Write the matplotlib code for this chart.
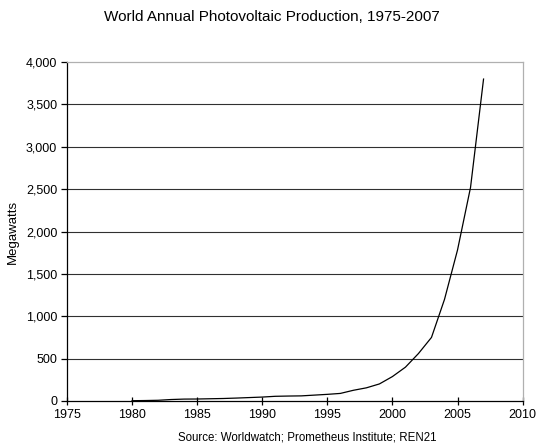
import matplotlib.pyplot as plt
from matplotlib.ticker import FuncFormatter

plt.rcParams['font.family'] = ['Liberation Sans', 'DejaVu Sans']

# world PV production, megawatts
years = [1980, 1981, 1982, 1983, 1984, 1985, 1986, 1987, 1988, 1989,
         1990, 1991, 1992, 1993, 1994, 1995, 1996, 1997, 1998, 1999,
         2000, 2001, 2002, 2003, 2004, 2005, 2006, 2007]
megawatts = [3, 5, 8, 17, 22, 23, 26, 29, 34, 40,
             46, 55, 58, 60, 69, 78, 89, 126, 155, 201,
             288, 399, 560, 750, 1199, 1782, 2521, 3800]

x_ticks = [1975, 1980, 1985, 1990, 1995, 2000, 2005, 2010]
y_ticks = [0, 500, 1000, 1500, 2000, 2500, 3000, 3500, 4000]

fig = plt.figure(figsize=(5.36, 4.47), dpi=100)
ax = fig.add_axes([0.125, 0.103, 0.85, 0.758])

for y in y_ticks[1:-1]:
    ax.axhline(y, color='#303030', lw=0.8, zorder=1)

ax.plot(years, megawatts, color='black', lw=0.9, zorder=3)

ax.set_xlim(1975, 2010)
ax.set_ylim(0, 4000)
ax.set_xticks(x_ticks)
ax.set_yticks(y_ticks)
ax.yaxis.set_major_formatter(FuncFormatter(lambda v, p: f"{int(v):,}"))

for s in ['left', 'bottom']:
    ax.spines[s].set_color('black')
    ax.spines[s].set_linewidth(0.9)
for s in ['top', 'right']:
    ax.spines[s].set_color('#b0b0b0')
    ax.spines[s].set_linewidth(0.9)

ax.tick_params(axis='x', direction='inout', length=6, width=0.9, labelsize=9, pad=3)
ax.tick_params(axis='y', direction='out', length=4, width=0.9, labelsize=9, pad=3)

ax.set_ylabel('Megawatts', fontsize=9.5, labelpad=5)
fig.text(0.508, 0.962, 'World Annual Photovoltaic Production, 1975-2007',
         ha='center', va='center', fontsize=11)
fig.text(0.573, 0.022, 'Source: Worldwatch; Prometheus Institute; REN21',
         ha='center', va='center', fontsize=8.3)

fig.savefig('out.png', dpi=100)
